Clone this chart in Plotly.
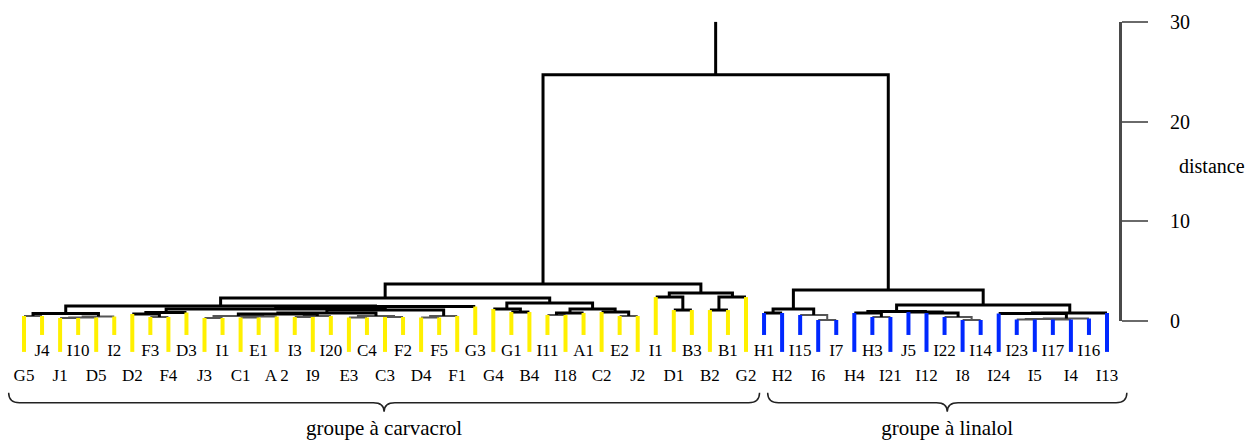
import plotly.graph_objects as go

# ---------------- data ----------------
leaf_names = ["G5", "J4", "J1", "I10", "D5", "I2", "D2", "F3", "F4", "D3", "J3", "I1", "C1", "E1",
              "A 2", "I3", "I9", "I20", "E3", "C4", "C3", "F2", "D4", "F5", "F1", "G3", "G4", "G1",
              "B4", "I11", "I18", "A1", "C2", "E2", "J2", "I1", "D1", "B3", "B2", "B1", "G2",
              "H1", "H2", "I15", "I6", "I7", "H4", "H3", "I21", "J5", "I12", "I22", "I8", "I14",
              "I24", "I23", "I5", "I17", "I4", "I16", "I13"]
group_names = ["groupe à carvacrol", "groupe à linalol"]
group_sizes = [41, 20]

# linkage: node n_leaves + k merges merge_left[k] and merge_right[k] at merge_height[k]
merge_left = [0, 2, 62, 63, 61,
              7, 6, 67, 10, 12, 70, 69, 15, 73, 72, 18, 20, 76, 75, 22, 80, 79, 68, 83, 65,
              27, 26, 29, 88, 33, 32, 89, 87, 85,
              36, 35, 38, 97, 96, 94,
              41, 44, 43, 101, 47, 46, 52, 51, 50, 49, 106, 55, 57, 112, 114, 54, 116, 111, 104, 100]
merge_right = [1, 3, 4, 5, 64,
               8, 66, 9, 11, 13, 14, 71, 16, 17, 74, 19, 21, 77, 78, 23, 24, 81, 82, 25, 84,
               28, 86, 30, 31, 34, 90, 91, 92, 93,
               37, 95, 39, 40, 98, 99,
               42, 45, 102, 103, 48, 105, 53, 107, 108, 109, 110, 56, 58, 113, 59, 115, 60, 117, 118, 119]
merge_height = [0.5, 0.3, 0.35, 0.45, 0.75,
                0.4, 0.7, 0.85, 0.3, 0.35, 0.45, 0.5, 0.4, 0.5, 0.7, 0.35, 0.4, 0.5, 0.8, 0.35, 0.5,
                1.1, 1.2, 1.45, 1.5,
                0.9, 1.2, 0.6, 0.8, 0.5, 0.9, 1.2, 1.8, 2.3,
                1.1, 2.4, 1.1, 2.4, 2.8, 3.7,
                0.8, 0.1, 0.6, 1.2, 0.4, 0.8, 0.1, 0.4, 0.8, 0.9, 0.95, 0.15, 0.15, 0.2, 0.25,
                0.75, 0.8, 1.6, 3.1, 24.7]
distance_ticks = [0, 10, 20, 30]
distance_max = 30

# ---------------- styles ----------------
FONT = "Liberation Serif"
leaf_colors = ["#FFF000", "#0028FF"]
STUB_SHORT, STUB_LONG = -1.4, -3.1
LABEL_Y_TOP, LABEL_Y_BOT = -3.1, -5.6
W, H = 1258, 443
px_per_leaf = 18.05
x_left_px = 24
px_per_unit = 9.97
zero_px = 321

# ---------------- dendrogram geometry ----------------
n = len(leaf_names)
pos = list(range(n)) + [0.0] * len(merge_left)
hgt = [0.0] * n + [0.0] * len(merge_left)
parent_h = [None] * (n + len(merge_left))
for k, (a, b, h) in enumerate(zip(merge_left, merge_right, merge_height)):
    node = n + k
    pos[node] = (pos[a] + pos[b]) / 2
    hgt[node] = h
    parent_h[a] = h
    parent_h[b] = h

thick_x, thick_y, thin_x, thin_y = [], [], [], []
for k, (a, b, h) in enumerate(zip(merge_left, merge_right, merge_height)):
    xs, ys = [], []
    if a >= n:
        xs += [pos[a]]; ys += [hgt[a]]
    xs += [pos[a], pos[b]]; ys += [h, h]
    if b >= n:
        xs += [pos[b]]; ys += [hgt[b]]
    if h < 0.7:
        thin_x += xs + [None]; thin_y += ys + [None]
    else:
        thick_x += xs + [None]; thick_y += ys + [None]
root = n + len(merge_left) - 1
thick_x += [pos[root], pos[root]]
thick_y += [hgt[root], distance_max]

fig = go.Figure()

# invisible trace to anchor the distance axis (drawn first, under everything)
fig.add_trace(go.Scatter(x=[0, 0], y=[distance_ticks[0], distance_ticks[-1]], yaxis="y2",
                         mode="markers", marker=dict(opacity=0), hoverinfo="skip"))

fig.add_trace(go.Scatter(x=thin_x, y=thin_y, mode="lines",
                         line=dict(color="#555555", width=2), hoverinfo="skip"))
fig.add_trace(go.Scatter(x=thick_x, y=thick_y, mode="lines",
                         line=dict(color="#000000", width=3), hoverinfo="skip"))

# leaf stubs coloured by group
start = 0
for g, size in enumerate(group_sizes):
    sx, sy = [], []
    for i in range(start, start + size):
        bottom = STUB_SHORT if i % 2 else STUB_LONG
        sx += [i, i, None]
        sy += [parent_h[i], bottom, None]
    fig.add_trace(go.Scatter(x=sx, y=sy, mode="lines",
                             line=dict(color=leaf_colors[g], width=4), hoverinfo="skip"))
    start += size

# leaf labels in two staggered rows
fig.add_trace(go.Scatter(
    x=list(range(n)),
    y=[LABEL_Y_TOP if i % 2 else LABEL_Y_BOT for i in range(n)],
    text=leaf_names, mode="text", textposition="middle center",
    textfont=dict(family=FONT, size=17, color="black"), hoverinfo="skip"))

# braces + group labels
y_top, y_line, y_tip = -7.2, -8.2, -9.1
r = 0.6
start = 0
gx, gy = [], []
for g, size in enumerate(group_sizes):
    first, last = start, start + size - 1
    if g == 0:
        x0, x1 = first - 0.85, last + 0.75
    else:
        x0, x1 = first + 0.2, last + 1.1
    xm = (x0 + x1) / 2
    path = (f"M {x0},{y_top} Q {x0},{y_line} {x0 + r},{y_line} "
            f"L {xm - r},{y_line} Q {xm},{y_line} {xm},{y_tip} "
            f"Q {xm},{y_line} {xm + r},{y_line} "
            f"L {x1 - r},{y_line} Q {x1},{y_line} {x1},{y_top}")
    fig.add_shape(type="path", path=path, xref="x", yref="y",
                  line=dict(color="#222222", width=1.5))
    gx.append(xm); gy.append(-10.9)
    start += size
fig.add_trace(go.Scatter(x=gx, y=gy, text=group_names, mode="text",
                         textposition="middle center",
                         textfont=dict(family=FONT, size=21, color="black"), hoverinfo="skip"))

x0_range = -x_left_px / px_per_leaf
x1_range = (W - x_left_px) / px_per_leaf
y0_range = -(H - zero_px) / px_per_unit
y1_range = zero_px / px_per_unit
axis_x_px = 1120
dom0 = (H - zero_px) / H
dom1 = (H - (zero_px - distance_max * px_per_unit)) / H

fig.update_layout(
    width=W, height=H,
    margin=dict(l=0, r=0, t=0, b=0, pad=0, autoexpand=False),
    paper_bgcolor="white", plot_bgcolor="rgba(0,0,0,0)",
    showlegend=False,
    xaxis=dict(visible=False, range=[x0_range, x1_range], domain=[0, 1], automargin=False),
    yaxis=dict(visible=False, range=[y0_range, y1_range], domain=[0, 1], automargin=False),
    yaxis2=dict(anchor="free", position=axis_x_px / W, side="right", automargin=False,
                domain=[dom0, dom1], range=[distance_ticks[0], distance_max],
                tickvals=distance_ticks, ticktext=[str(t) for t in distance_ticks],
                showline=True, linecolor="#4a4a4a", linewidth=3,
                ticks="outside", ticklen=26, tickwidth=2, tickcolor="#6a6a6a",
                ticklabelstandoff=18,
                tickfont=dict(family=FONT, size=20, color="black"),
                showgrid=False, zeroline=False),
    annotations=[dict(x=(axis_x_px + 57) / W, y=(H - 166) / H, xref="paper", yref="paper",
                      text="distance", showarrow=False, xanchor="left", yanchor="middle",
                      font=dict(family=FONT, size=20, color="black"))],
)

fig.write_html("out.html", config={"displayModeBar": False},
               post_script="document.body.style.margin='0';")
